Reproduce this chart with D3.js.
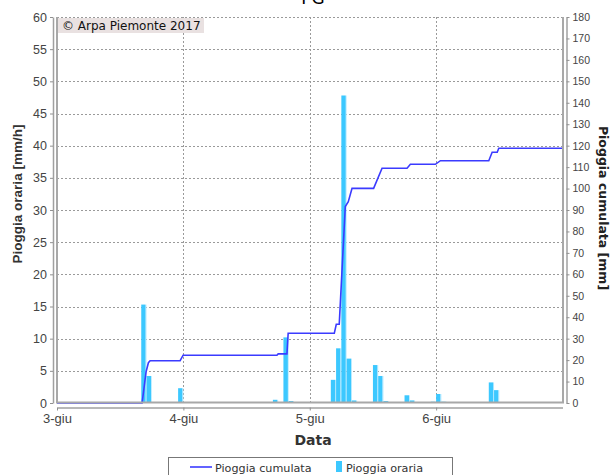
<!DOCTYPE html>
<html>
<head>
<meta charset="utf-8">
<script src="https://cdn.jsdelivr.net/npm/d3@7"></script>
<style>
  html, body { margin: 0; padding: 0; background: #fff; }
  svg { display: block; }
</style>
</head>
<body>
<div id="chart"></div>
<script>
// Hourly rain (mm/h): start hour counted from 3-giu 00:00, and value
const barHours  = [16, 17, 23, 41, 43, 44, 52, 53, 54, 55, 56, 60, 61, 62, 66, 67, 71, 72, 73, 82, 83];
const barValues = [15.3, 4.2, 2.3, 0.5, 10.2, 0.3, 3.6, 8.5, 47.8, 6.9, 0.4, 5.9, 4.2, 0.3, 1.2, 0.4, 0.2, 1.4, 0.2, 3.2, 2.0];

// Cumulated rain (mm) at the recorded times (hours from 3-giu 00:00)
const cumHours  = [0, 16.16, 16.92, 17.36, 17.68, 23.38, 23.95, 41.77, 42.0, 43.67, 43.9, 52.66, 53.04, 53.6, 54.75, 55.32, 56.03, 60.13, 61.73, 66.48, 67.11, 71.86, 72.81, 82.0, 82.64, 83.6, 83.9, 96];
const cumValues = [0, 0, 14.6, 18.8, 19.7, 19.7, 22.3, 22.3, 22.9, 22.9, 32.5, 32.5, 36.7, 36.7, 91.6, 93.9, 100.1, 100.1, 109.5, 109.5, 111.3, 111.3, 113.0, 113.0, 116.9, 116.9, 118.8, 118.8];

// Axis ticks
const leftTicks  = [0, 5, 10, 15, 20, 25, 30, 35, 40, 45, 50, 55, 60];
const rightTicks = [0, 10, 20, 30, 40, 50, 60, 70, 80, 90, 100, 110, 120, 130, 140, 150, 160, 170, 180];
const dayTicks   = [3, 4, 5, 6];
const dayLabels  = ["3-giu", "4-giu", "5-giu", "6-giu"];

const W = 613, H = 475;
const start = new Date(2017, 5, 3);
const toDate = h => new Date(start.getTime() + h * 3600e3);

const plot = { left: 57, right: 562.5, top: 17, bottom: 403 };

const svg = d3.select("#chart").append("svg")
  .attr("width", W).attr("height", H)
  .style("font-family", "'DejaVu Sans', sans-serif");

const x = d3.scaleTime()
  .domain([start, toDate(96)])
  .range([plot.left, plot.right]);
const yL = d3.scaleLinear().domain([0, 60]).range([plot.bottom, plot.top]);
const yR = d3.scaleLinear().domain([0, 180]).range([plot.bottom, plot.top]);

// Title (runs past the top edge)
svg.append("text")
  .attr("x", 313).attr("y", 4)
  .attr("text-anchor", "middle")
  .style("font-size", "17px").style("fill", "#000")
  .text("PG");

// Grid
const grid = svg.append("g").attr("stroke", "#9a9a9a").attr("stroke-width", 1)
  .attr("stroke-dasharray", "2,2").attr("fill", "none");
leftTicks.filter(t => t > 0).forEach(t => {
  grid.append("line")
    .attr("x1", plot.left).attr("x2", plot.right)
    .attr("y1", Math.round(yL(t)) + 0.5).attr("y2", Math.round(yL(t)) + 0.5);
});
dayTicks.slice(1).forEach(d => {
  const xx = Math.round(x(toDate((d - 3) * 24))) + 0.5;
  grid.append("line")
    .attr("x1", xx).attr("x2", xx)
    .attr("y1", plot.top).attr("y2", plot.bottom);
});

// Bar fill: flat blue with a pale strip on the right edge
const defs = svg.append("defs");
const grad = defs.append("linearGradient").attr("id", "barGrad")
  .attr("x1", "0").attr("x2", "1").attr("y1", "0").attr("y2", "0");
grad.append("stop").attr("offset", "0").attr("stop-color", "#3cc8ff");
grad.append("stop").attr("offset", "0.76").attr("stop-color", "#3cc8ff");
grad.append("stop").attr("offset", "0.82").attr("stop-color", "#9fe2ff");
grad.append("stop").attr("offset", "1").attr("stop-color", "#b8ebff");

const bars = barHours.map((h, i) => ({ h, v: barValues[i] }));
svg.append("g").selectAll("rect").data(bars).join("rect")
  .attr("x", d => x(toDate(d.h)))
  .attr("width", d => x(toDate(d.h + 1)) - x(toDate(d.h)))
  .attr("y", d => yL(d.v))
  .attr("height", d => yL(0) - yL(d.v))
  .attr("fill", "url(#barGrad)");

// Cumulated line
const cum = cumHours.map((h, i) => ({ h, v: cumValues[i] }));
svg.append("path")
  .datum(cum)
  .attr("fill", "none")
  .attr("stroke", "#3b3bff")
  .attr("stroke-width", 1.6)
  .attr("d", d3.line().x(d => x(toDate(d.h))).y(d => yR(d.v)));

// Plot outline (left, right, bottom), drawn over the series
svg.append("path")
  .attr("d", `M${plot.left},${plot.top}V${plot.bottom - 0.5}H${plot.right + 0.5}V${plot.top}`)
  .attr("fill", "none").attr("stroke", "#a8a8a8").attr("stroke-width", 2);

// Copyright box
const cg = svg.append("g");
cg.append("rect").attr("x", plot.left + 1).attr("y", plot.top + 1)
  .attr("width", 146).attr("height", 15).attr("fill", "#e9e1e1");
cg.append("text").attr("x", plot.left + 5).attr("y", plot.top + 13)
  .style("font-size", "12px").style("fill", "#111")
  .text("© Arpa Piemonte 2017");

// Axes
function styleAxis(g) {
  g.select(".domain").attr("stroke", "#a0a0a0").attr("stroke-width", 1.5);
  g.selectAll(".tick line").attr("stroke", "#909090");
  g.selectAll(".tick text").attr("fill", "#444");
}

svg.append("g")
  .attr("transform", "translate(53,0)")
  .call(d3.axisLeft(yL).tickValues(leftTicks).tickSize(3).tickSizeOuter(0).tickPadding(3))
  .call(styleAxis)
  .call(g => g.selectAll(".tick text").style("font-size", "12.5px"));

svg.append("g")
  .attr("transform", "translate(566.5,0)")
  .call(d3.axisRight(yR).tickValues(rightTicks).tickSize(3).tickSizeOuter(0).tickPadding(3))
  .call(styleAxis)
  .call(g => g.selectAll(".tick text").style("font-size", "10.5px"));

svg.append("g")
  .attr("transform", "translate(0,407.5)")
  .call(d3.axisBottom(x)
    .tickValues(dayTicks.map(d => toDate((d - 3) * 24)))
    .tickFormat((d, i) => dayLabels[i])
    .tickSize(3).tickSizeOuter(0).tickPadding(3))
  .call(styleAxis)
  .call(g => g.selectAll(".tick text").style("font-size", "13px"));

// Axis titles
svg.append("text")
  .attr("transform", "translate(22,194) rotate(-90)")
  .attr("text-anchor", "middle")
  .style("font-family", "'Liberation Sans', Arial, sans-serif")
  .style("font-size", "13.5px").style("font-weight", "bold").style("fill", "#333")
  .text("Pioggia oraria [mm/h]");

svg.append("text")
  .attr("transform", "translate(599,208) rotate(90)")
  .attr("text-anchor", "middle")
  .style("font-size", "12.5px").style("font-weight", "bold").style("fill", "#222")
  .text("Pioggia cumulata [mm]");

svg.append("text")
  .attr("x", 313).attr("y", 445)
  .attr("text-anchor", "middle")
  .style("font-size", "14px").style("font-weight", "bold").style("fill", "#333")
  .text("Data");

// Legend
const lg = svg.append("g");
lg.append("rect").attr("x", 168.5).attr("y", 457.5).attr("width", 284).attr("height", 24)
  .attr("fill", "#fff").attr("stroke", "#777");
lg.append("line").attr("x1", 190).attr("x2", 212).attr("y1", 467).attr("y2", 467)
  .attr("stroke", "#3b3bff").attr("stroke-width", 1.6);
lg.append("text").attr("x", 215).attr("y", 471.5)
  .style("font-size", "11.2px").style("fill", "#333").text("Pioggia cumulata");
lg.append("rect").attr("x", 336).attr("y", 461).attr("width", 6).attr("height", 11)
  .attr("fill", "#3cc8ff");
lg.append("text").attr("x", 346).attr("y", 471.5)
  .style("font-size", "11.2px").style("fill", "#333").text("Pioggia oraria");
</script>
</body>
</html>
